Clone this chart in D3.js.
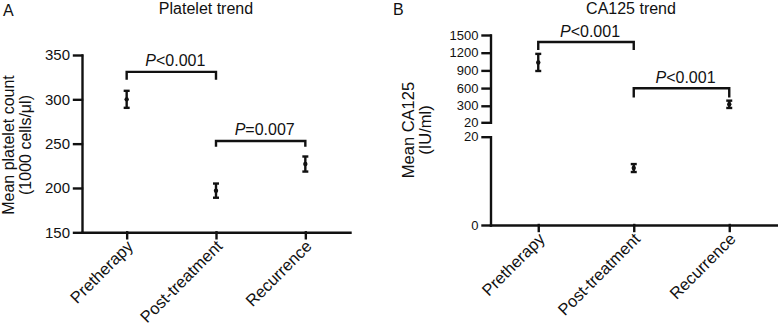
<!DOCTYPE html>
<html>
<head>
<meta charset="utf-8">
<script src="https://cdn.jsdelivr.net/npm/d3@7"></script>
<style>
	body { margin: 0; background: #fff; }
	svg text { font-family: "Liberation Sans", Arial, sans-serif; fill: #111; }
	.axis path, .axis line { stroke: #111; stroke-width: 2.4; stroke-linecap: square; }
</style>
</head>
<body>
<svg id="chart" width="778" height="325"></svg>
<script>
const categories = ["Pretherapy", "Post-treatment", "Recurrence"];

// panel A: platelet count (1000 cells/ul)
const plateletMean = [300, 197, 227];
const plateletErr = [9.6, 8, 8.5];
const plateletTicks = [150, 200, 250, 300, 350];
const plateletBrackets = [
	{ from: 0, to: 1, y: 331, leg: 322, label: "<0.001" },
	{ from: 1, to: 2, y: 253, leg: 246.5, label: "=0.007" }
];

// panel B: CA125 (IU/ml), broken axis at 20
const ca125Mean = [1035, 12.9, 325];
const ca125Err = [145, 0.9, 62];
const ca125LowTicks = [0, 20];
const ca125HighTicks = [20, 300, 600, 900, 1200, 1500];
const ca125Brackets = [
	{ from: 0, to: 1, y: 1381, leg: 1245, label: "<0.001" },
	{ from: 1, to: 2, y: 598, leg: 440, label: "<0.001" }
];

const svg = d3.select("#chart");

function drawCategoryAxis(g, x, y0) {
	const axis = g.append("g")
		.attr("class", "axis")
		.attr("transform", `translate(0,${y0})`)
		.call(d3.axisBottom(x).tickSize(6).tickSizeOuter(0));
	axis.selectAll("text")
		.attr("x", 0).attr("y", 0).attr("dy", 0)
		.style("font-size", "16.5px")
		.style("text-anchor", "end")
		.attr("transform", "translate(7,15) rotate(-45)");
	return axis;
}

function drawErrorBars(g, x, yFn, means, errs) {
	const cap = 3;
	categories.forEach((c, i) => {
		const cx = x(c);
		const lo = yFn(means[i] - errs[i]), hi = yFn(means[i] + errs[i]);
		const bar = g.append("g").attr("stroke", "#111").attr("stroke-width", 2.4);
		bar.append("line").attr("x1", cx).attr("x2", cx).attr("y1", lo).attr("y2", hi);
		bar.append("line").attr("x1", cx - cap).attr("x2", cx + cap).attr("y1", lo).attr("y2", lo);
		bar.append("line").attr("x1", cx - cap).attr("x2", cx + cap).attr("y1", hi).attr("y2", hi);
		g.append("circle").attr("cx", cx).attr("cy", yFn(means[i])).attr("r", 2.2).attr("fill", "#111");
	});
}

function drawBrackets(g, x, yFn, brackets) {
	brackets.forEach(b => {
		const x1 = x(categories[b.from]), x2 = x(categories[b.to]);
		const yb = yFn(b.y), yl = yFn(b.leg);
		g.append("path")
			.attr("d", `M${x1},${yl}V${yb}H${x2}V${yl}`)
			.attr("fill", "none")
			.attr("stroke", "#111")
			.attr("stroke-width", 2.4);
		const t = g.append("text")
			.attr("x", (x1 + x2) / 2 + 4)
			.attr("y", yb - 5.5)
			.attr("text-anchor", "middle")
			.style("font-size", "16px");
		t.append("tspan").style("font-style", "italic").text("P");
		t.append("tspan").text(b.label);
	});
}

function drawYLabel(g, lines, cx, cy, size) {
	const t = g.append("text")
		.attr("transform", `translate(${cx},${cy}) rotate(-90)`)
		.attr("text-anchor", "middle")
		.style("font-size", size + "px");
	lines.forEach((l, i) => t.append("tspan").attr("x", 0).attr("dy", i == 0 ? 0 : "1.05em").text(l));
}

// ---------- panel A ----------
{
	const g = svg.append("g");
	const x = d3.scalePoint().domain(categories).range([82, 350]).padding(0.5);
	const y = d3.scaleLinear().domain([150, 350]).range([232.3, 55]);

	g.append("g")
		.attr("class", "axis")
		.attr("transform", "translate(82,0)")
		.call(d3.axisLeft(y).tickValues(plateletTicks).tickSize(8).tickPadding(4).tickSizeOuter(0))
		.selectAll("text").style("font-size", "15px");
	drawCategoryAxis(g, x, 232.3);

	drawErrorBars(g, x, y, plateletMean, plateletErr);
	drawBrackets(g, x, y, plateletBrackets);

	drawYLabel(g, ["Mean platelet count", "(1000 cells/\u03bcl)"], 14, 145, 16);

	g.append("text").attr("x", 206).attr("y", 13.5).attr("text-anchor", "middle")
		.style("font-size", "16px").text("Platelet trend");
	g.append("text").attr("x", 3).attr("y", 16).style("font-size", "16px").text("A");
}

// ---------- panel B ----------
{
	const g = svg.append("g");
	const left = 490.5, base = 225;
	const x = d3.scalePoint().domain(categories).range([left, 777]).padding(0.5);
	const yLow = d3.scaleLinear().domain([0, 20]).range([base, 136.7]);
	const yHigh = d3.scaleLinear().domain([20, 1500]).range([122.3, 35]);
	const y = v => v <= 20 ? yLow(v) : yHigh(v);

	g.append("g")
		.attr("class", "axis")
		.attr("transform", `translate(${left},0)`)
		.call(d3.axisLeft(yLow).tickValues(ca125LowTicks).tickFormat(d3.format("d"))
			.tickSize(8).tickPadding(4).tickSizeOuter(0))
		.selectAll("text").style("font-size", "13px");
	g.append("g")
		.attr("class", "axis")
		.attr("transform", `translate(${left},0)`)
		.call(d3.axisLeft(yHigh).tickValues(ca125HighTicks).tickFormat(d3.format("d"))
			.tickSize(8).tickPadding(4).tickSizeOuter(0))
		.selectAll("text").style("font-size", "13px");
	drawCategoryAxis(g, x, base);

	drawErrorBars(g, x, y, ca125Mean, ca125Err);
	drawBrackets(g, x, y, ca125Brackets);

	drawYLabel(g, ["Mean CA125", "(IU/ml)"], 414, 130, 16.5);

	g.append("text").attr("x", 631).attr("y", 13.5).attr("text-anchor", "middle")
		.style("font-size", "16px").text("CA125 trend");
	g.append("text").attr("x", 393).attr("y", 15).style("font-size", "16px").text("B");
}
</script>
</body>
</html>
